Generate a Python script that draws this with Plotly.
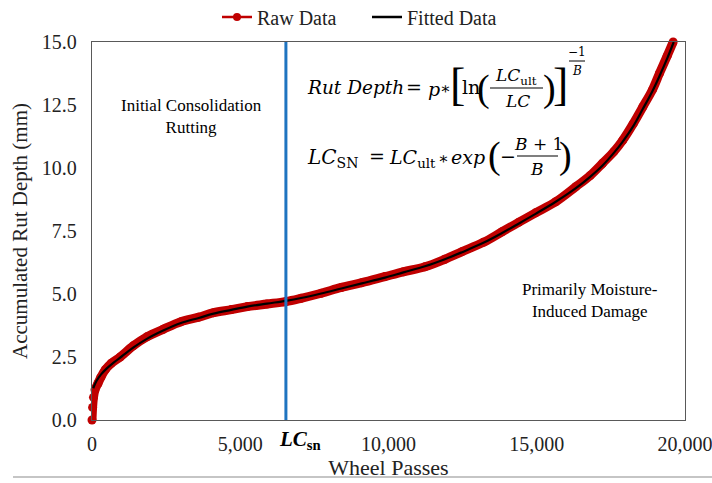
import plotly.graph_objects as go

# ---- data -------------------------------------------------------------
raw_passes = [0, 20, 50, 100, 200, 300, 450, 650, 950, 1400, 1850, 2400, 3000,
              3600, 4100, 4700, 5240, 5900, 6540, 7050, 7730, 8410, 9100, 9880,
              10500, 11230, 11900, 12480, 13200, 13830, 14400, 14960, 15640,
              16320, 16800, 17220, 17600, 17900, 18250, 18580, 18900, 19140,
              19400, 19600]
raw_depth = [0.0, 0.5, 0.9, 1.2, 1.45, 1.7, 2.0, 2.25, 2.5, 2.95, 3.3, 3.6, 3.9,
             4.08, 4.26, 4.38, 4.5, 4.6, 4.7, 4.83, 5.03, 5.26, 5.45, 5.69,
             5.88, 6.08, 6.38, 6.68, 7.05, 7.47, 7.85, 8.22, 8.66,
             9.26, 9.7, 10.19, 10.65, 11.1, 11.75, 12.43, 13.1, 13.76,
             14.45, 15.0]

fit_passes = [40, 150, 300, 500, 750, 1000, 1400, 1850, 2400, 3000, 3600, 4100,
              4700, 5240, 5900, 6540, 7050, 7730, 8410, 9100, 9880, 10500,
              11230, 11900, 12480, 13200, 13830, 14400, 14960, 15640, 16320,
              16800, 17220, 17600, 17900, 18250, 18580, 18900, 19140, 19400,
              19620]
fit_depth = [1.26, 1.55, 1.8, 2.05, 2.3, 2.52, 2.88, 3.22, 3.55, 3.85, 4.05, 4.22,
             4.37, 4.5, 4.62, 4.73, 4.84, 5.02, 5.22, 5.42, 5.65, 5.86,
             6.1, 6.38, 6.66, 7.03, 7.42, 7.8, 8.18, 8.66, 9.2,
             9.65, 10.1, 10.6, 11.05, 11.65, 12.35, 13.05, 13.65, 14.35,
             15.0]

LC_SN = 6540

x_ticks = [0, 5000, 10000, 15000, 20000]
x_tick_text = ["0", "5,000", "10,000", "15,000", "20,000"]
y_ticks = [0, 2.5, 5.0, 7.5, 10.0, 12.5, 15.0]

# ---- canvas geometry ----------------------------------------------------
W, H = 712, 483
L, R, T, B = 92, 685, 42, 420


def px(x):
    return (x - L) / (R - L)


def py(y):
    return (B - y) / (B - T)


SERIF = "Liberation Serif"
MATH = "DejaVu Serif"
RED = "#c00000"
BLUE = "#1f74c0"

fig = go.Figure()

fig.add_trace(go.Scatter(
    x=raw_passes, y=raw_depth, mode="lines+markers", showlegend=False,
    line=dict(color=RED, width=9, shape="spline"),
    marker=dict(color=RED, size=9),
    cliponaxis=False,
))
fig.add_trace(go.Scatter(
    x=fit_passes, y=fit_depth, mode="lines", showlegend=False,
    line=dict(color="black", width=2.2, shape="spline"),
    cliponaxis=False,
))
# legend entries
fig.add_trace(go.Scatter(
    x=[None], y=[None], mode="lines+markers", name="Raw Data",
    line=dict(color=RED, width=2.5), marker=dict(color=RED, size=8),
))
fig.add_trace(go.Scatter(
    x=[None], y=[None], mode="lines", name="Fitted Data",
    line=dict(color="black", width=2.5),
))

# LC_SN marker line
fig.add_shape(type="line", xref="x", yref="y", x0=LC_SN, x1=LC_SN, y0=0, y1=15,
              line=dict(color=BLUE, width=3))

ann = []


def text(s, x, y, size=19, font=MATH, xanchor="center", yanchor="middle"):
    ann.append(dict(text=s, x=px(x), y=py(y), xref="paper", yref="paper",
                    xanchor=xanchor, yanchor=yanchor, showarrow=False,
                    borderpad=0,
                    font=dict(family=font, size=size, color="black")))


def bar(x0, x1, y, width=1.2):
    fig.add_shape(type="line", xref="paper", yref="paper",
                  x0=px(x0), x1=px(x1), y0=py(y), y1=py(y),
                  line=dict(color="black", width=width))


# Rut Depth = p * [ln(LC_ult / LC)]^(-1/B)
text("<i>Rut Depth</i>", 306, 87, size=18.5, xanchor="left")
text("=", 414, 87)
text("<i>p</i>", 434, 89)
text("∗", 445, 89, size=16)
text("[", 457, 84, size=46, font=SERIF)
text("ln", 471, 87)
text("(", 484, 88, size=38, font=SERIF)
text("<i>LC</i><sub>ult</sub>", 516, 76, size=17)
bar(490, 543, 88)
text("<i>LC</i>", 517, 101, size=17)
text(")", 549, 88, size=38, font=SERIF)
text("]", 560, 84, size=46, font=SERIF)
text("−1", 577, 52, size=12)
bar(569, 585, 61, 1)
text("<i>B</i>", 577, 71, size=12)

# LC_SN = LC_ult * exp(-(B+1)/B)
text("<i>LC</i><sub>SN</sub>", 306, 158, size=20, xanchor="left")
text("=", 377, 156)
text("<i>LC</i><sub>ult</sub>", 388, 158, xanchor="left")
text("∗", 443, 158, size=16)
text("<i>exp</i>", 450, 157, xanchor="left")
text("(", 494, 155, size=38, font=SERIF)
text("−", 508, 156)
text("<i>B</i> + 1", 538, 144, size=17)
bar(517, 558, 156)
text("<i>B</i>", 537, 169, size=17)
text(")", 565, 155, size=38, font=SERIF)

# region labels
text("Initial Consolidation<br>Rutting", 191, 116, size=17, font=SERIF)
text("Primarily Moisture-<br>Induced Damage", 590, 300, size=17, font=SERIF)

# LC_sn tick label
text("<b><i>LC</i><sub>sn</sub></b>", 300, 440, size=21, font=SERIF)

fig.update_layout(annotations=ann)

# rule under the chart
fig.add_shape(type="line", xref="paper", yref="paper",
              x0=px(13), x1=px(712), y0=py(477), y1=py(477),
              line=dict(color="#8c8c8c", width=1.2))

axis_common = dict(showgrid=False, zeroline=False, showline=True, mirror=True,
                   linecolor="#595959", linewidth=1.3, ticks="",
                   ticklabeloverflow="allow",
                   tickfont=dict(family=SERIF, size=20, color="#222"))

fig.update_xaxes(range=[0, 20000], tickvals=x_ticks, ticktext=x_tick_text,
                 ticklabelstandoff=6,
                 title=dict(text="Wheel Passes", standoff=4,
                            font=dict(family=SERIF, size=22, color="#222")),
                 **axis_common)
fig.update_yaxes(range=[0, 15], tickvals=y_ticks, tickformat=".1f",
                 ticklabelstandoff=10,
                 title=dict(text="Accumulated Rut Depth (mm)", standoff=8,
                            font=dict(family=SERIF, size=21, color="#222")),
                 **axis_common)

fig.update_layout(
    width=W, height=H,
    margin=dict(l=L, r=W - R, t=T, b=H - B, autoexpand=False),
    plot_bgcolor="white", paper_bgcolor="white",
    legend=dict(orientation="h", x=px(367), y=py(17), xanchor="center",
                yanchor="middle", font=dict(family=SERIF, size=20, color="#222"),
                itemwidth=30, entrywidth=105, entrywidthmode="pixels",
                bgcolor="rgba(0,0,0,0)"),
)

fig.write_html("out.html")
